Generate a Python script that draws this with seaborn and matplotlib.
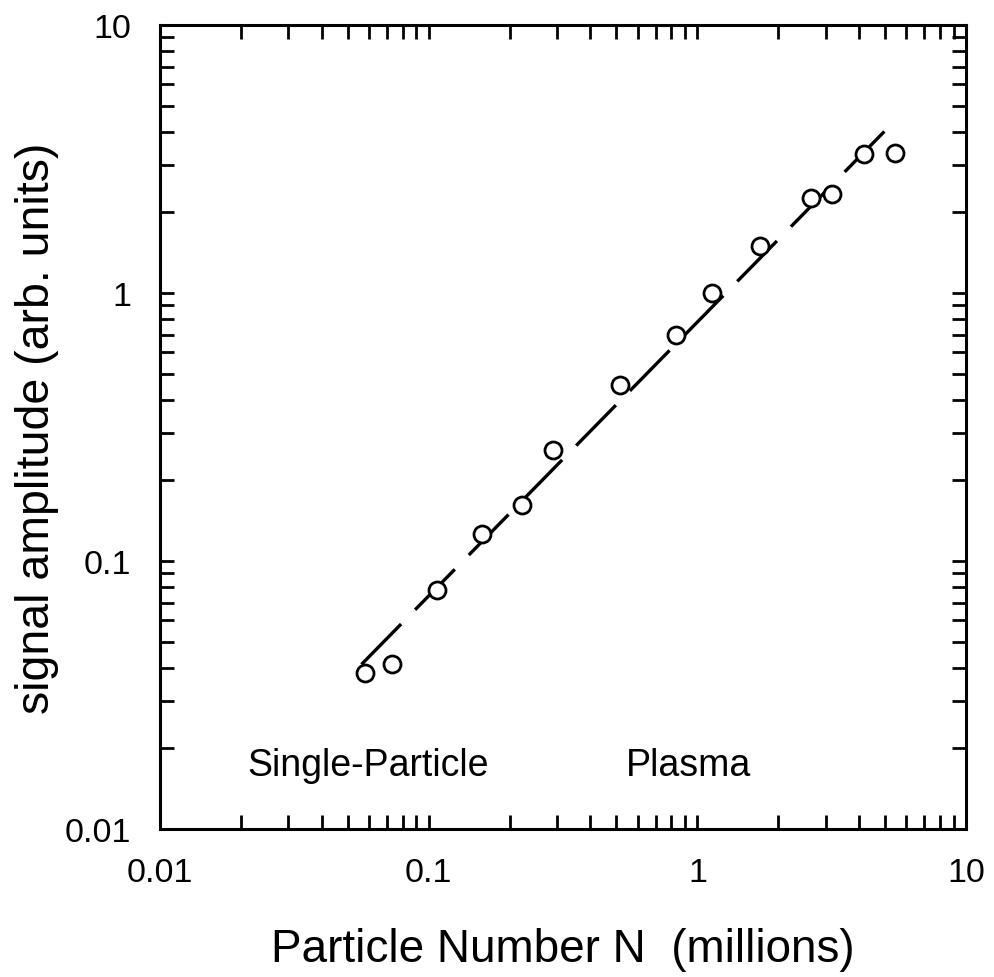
import matplotlib
matplotlib.use("Agg")
import matplotlib.pyplot as plt
import matplotlib.ticker as mticker
import numpy as np
import pandas as pd
import seaborn as sns

# ---- data ----
particle_number = [0.0577, 0.0729, 0.107, 0.158, 0.222, 0.290, 0.517, 0.832,
                   1.135, 1.717, 2.64, 3.17, 4.18, 5.46]
signal_amplitude = [0.0381, 0.0411, 0.0778, 0.126, 0.162, 0.260, 0.452, 0.696,
                    1.00, 1.50, 2.27, 2.35, 3.29, 3.34]
fit_x = [0.0562, 5.19]
fit_y = [0.0411, 4.19]
tick_values = [0.01, 0.1, 1, 10]
tick_labels = ["0.01", "0.1", "1", "10"]
region_labels = ["Single-Particle", "Plasma"]
region_x = [0.0211, 0.541]
region_y = [0.0159, 0.0159]

points = pd.DataFrame({"N": particle_number, "S": signal_amplitude})
fit = pd.DataFrame({"N": fit_x, "S": fit_y})

sns.set_style("ticks")
plt.rcParams["font.family"] = ["Liberation Sans", "DejaVu Sans"]
plt.rcParams["text.color"] = "black"
plt.rcParams["axes.labelcolor"] = "black"
plt.rcParams["xtick.color"] = "black"
plt.rcParams["ytick.color"] = "black"

fig = plt.figure(figsize=(9.95, 9.78), dpi=100)
ax = fig.add_axes([160 / 995, 1 - 830 / 978, (966 - 160) / 995, (830 - 26) / 978])

sns.lineplot(data=fit, x="N", y="S", ax=ax, color="black", lw=2.4,
             dashes=False, zorder=2)
ax.lines[-1].set_dashes([17, 6])
sns.scatterplot(data=points, x="N", y="S", ax=ax, marker="o", s=150,
                facecolor="white", edgecolor="black", linewidth=2.0, zorder=3)

ax.set_xscale("log")
ax.set_yscale("log")
ax.set_xlim(0.01, 10)
ax.set_ylim(0.01, 10)

for axis in (ax.xaxis, ax.yaxis):
    axis.set_major_locator(mticker.FixedLocator(tick_values))
    axis.set_minor_locator(mticker.LogLocator(base=10, subs=np.arange(2, 10), numticks=20))
    axis.set_minor_formatter(mticker.NullFormatter())
ax.set_xticks(tick_values, tick_labels)
ax.set_yticks(tick_values, tick_labels)

ax.tick_params(which="both", direction="in", top=True, right=True,
               length=10, width=2.0, color="black", labelcolor="black")
ax.tick_params(axis="x", which="major", labelsize=24.5, pad=20)
ax.tick_params(axis="y", which="major", labelsize=24.5, pad=21)

for sp in ax.spines.values():
    sp.set_linewidth(2.2)
    sp.set_color("black")
    sp.set_visible(True)

ax.set_xlabel("Particle Number N  (millions)", fontsize=33, labelpad=28, color="black")
ax.set_ylabel("signal amplitude (arb. units)", fontsize=33.5, labelpad=4, color="black")

for lab, xx, yy in zip(region_labels, region_x, region_y):
    ax.text(xx, yy, lab, fontsize=27, ha="left", va="baseline", color="black")

fig.savefig("out.png", dpi=100, facecolor="white")
